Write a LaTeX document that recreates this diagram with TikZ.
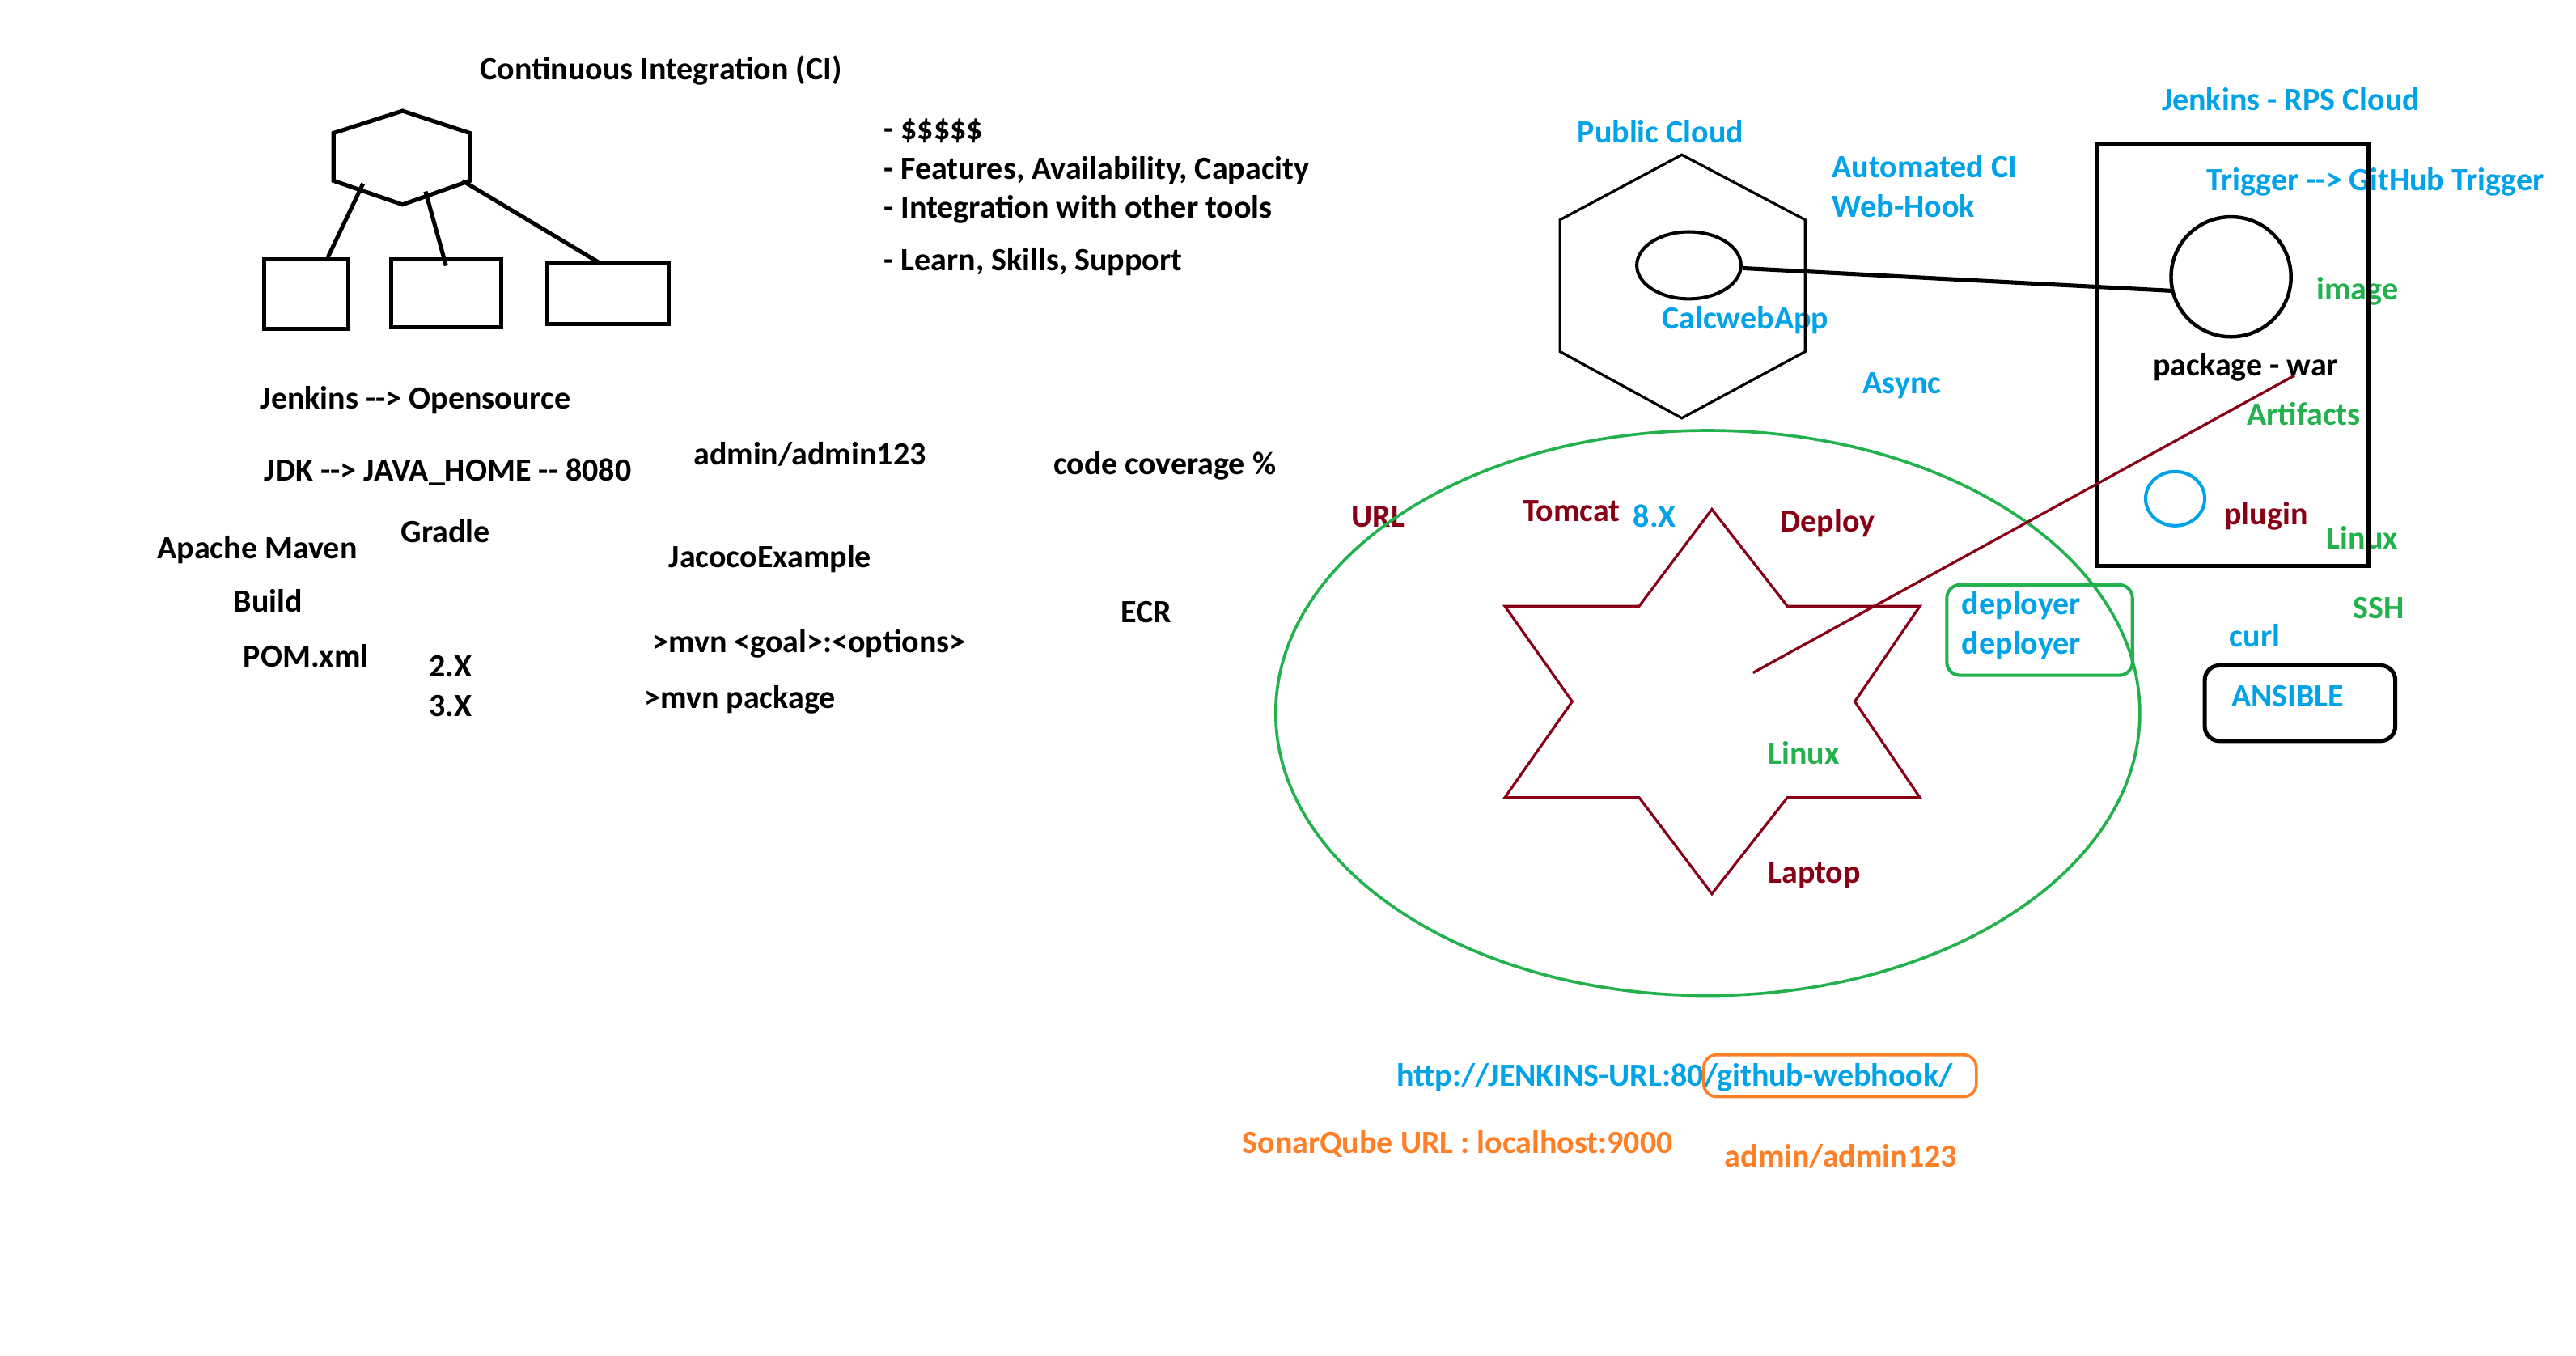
\documentclass[tikz,border=0pt]{standalone}
\usepackage{fontspec}
\setmainfont{Carlito}
\usetikzlibrary{shapes.geometric}
\definecolor{pblue}{HTML}{00A2E8}
\definecolor{pgreen}{HTML}{22B14C}
\definecolor{pred}{HTML}{880015}
\definecolor{porange}{HTML}{FF7F27}
\newcommand{\arr}{-{}->}
\newcommand{\dd}{-{}-}
\begin{document}
\begin{tikzpicture}[x=1pt,y=-1pt,
  lbl/.style={anchor=base west,inner sep=0pt,font=\fontsize{19.7}{24}\selectfont\bfseries},
  blk/.style={lbl,text=black},
  blu/.style={lbl,text=pblue},
  grn/.style={lbl,text=pgreen},
  drd/.style={lbl,text=pred},
  org/.style={lbl,text=porange},
  thick line/.style={draw=black,line width=2.5pt},
  thin line/.style={line width=1.6pt},
  box/.style={thick line,rectangle,inner sep=0pt}
]
\useasboundingbox[fill=white] (0,0) rectangle (1568,825);

% ---------- left texts ----------
\node[blk] (ci)   at (292,48.6) {Continuous Integration (CI)};
\node[blk] (t1)   at (537.7,84.8) {- \$\$\$\$\$};
\node[blk] (t2)   at (537.7,108.9) {- Features, Availability, Capacity};
\node[blk] (t3)   at (537.7,132.9) {- Integration with other tools};
\node[blk] (t4)   at (537.7,164.9) {- Learn, Skills, Support};
\node[blk] (jo)   at (158.3,248.9) {Jenkins \arr{} Opensource};
\node[blk] (jdk)  at (160.8,292.7) {JDK \arr{} JAVA\_HOME \dd{} 8080};
\node[blk] (adm)  at (422,282.8) {admin/admin123};
\node[blk] (cc)   at (641,289) {code coverage \%};
\node[blk] (am)   at (95.5,340) {Apache Maven};
\node[blk] (gr)   at (244,330.3) {Gradle};
\node[blk] (jac)  at (407,345.6) {JacocoExample};
\node[blk] (bld)  at (142,372.7) {Build};
\node[blk] (ecr)  at (682,379) {ECR};
\node[blk] (mvg)  at (397,397.3) {>mvn <goal>:<options>};
\node[blk] (pom)  at (148,406) {POM.xml};
\node[blk] (v2)   at (261,412) {2.X};
\node[blk] (v3)   at (261,436) {3.X};
\node[blk] (mvp)  at (392,431.2) {>mvn package};

% ---------- right texts ----------
\node[blu] (rps)  at (1315.7,67.3) {Jenkins - RPS Cloud};
\node[blu] (pc)   at (960,86.8) {Public Cloud};
\node[blu] (aci)  at (1115,108.3) {Automated CI};
\node[blu] (wh)   at (1115,132.4) {Web-Hook};
\node[blu] (trg)  at (1343,116) {Trigger \arr{} GitHub Trigger};
\node[grn] (img)  at (1410,182.4) {image};
\node[blu] (calc) at (1011.5,200.2) {CalcwebApp};
\node[blk] (pkg)  at (1310.4,228.5) {package - war};
\node[blu] (asy)  at (1133.7,239.8) {Async};
\node[grn] (art)  at (1367.6,258.8) {Artifacts};
\node[drd] (url)  at (822.6,321) {URL};
\node[drd] (tom)  at (926.8,317.3) {Tomcat};
\node[blu] (v8)   at (994,321) {8.X};
\node[drd] (dep)  at (1083.4,323.8) {Deploy};
\node[drd] (plg)  at (1353.8,319.6) {plugin};
\node[grn] (lnx1) at (1416,334.3) {Linux};
\node[grn] (ssh)  at (1432,376.7) {SSH};
\node[blu] (d1)   at (1194,373.9) {deployer};
\node[blu] (d2)   at (1194,398.2) {deployer};
\node[blu] (crl)  at (1357,393.7) {curl};
\node[blu] (ans)  at (1358,430.4) {ANSIBLE};
\node[grn] (lnx2) at (1076,465) {Linux};
\node[drd] (lap)  at (1076,537.6) {Laptop};
\node[blu] (hook) at (850,661.3) {http://JENKINS-URL:80/github-webhook/};
\node[org] (sq)   at (756,702) {SonarQube URL : localhost:9000};
\node[org] (adm2) at (1049.6,710.2) {admin/admin123};

% ---------- small hexagon and boxes ----------
\draw[thick line,line join=miter] (245,67.5) -- (286,81) -- (286,110) -- (245,124.5) -- (203,110) -- (203,81) -- cycle;
\coordinate (h1) at (221,111.7);
\coordinate (h2) at (259,116.5);
\coordinate (h3) at (281.5,110);
\node[box,minimum width=51pt,minimum height=42pt] (b1) at (186.5,179) {};
\node[box,minimum width=67pt,minimum height=41pt] (b2) at (271.5,178.5) {};
\node[box,minimum width=74pt,minimum height=37pt] (b3) at (370,178.5) {};
\draw[thick line] (h1) -- ([xshift=13pt]b1.north);
\draw[thick line] (h2) -- ([yshift=-5pt]b2.north);
\draw[thick line] (h3) -- ([xshift=-5.5pt,yshift=-1pt]b3.north);

% ---------- public cloud hexagon ----------
\draw[black,thin line] (1023.7,94.2) -- (1098.8,133.8) -- (1098.8,214) -- (1023.7,254.5) -- (949.6,214) -- (949.6,133.8) -- cycle;
\node[draw=black,line width=2pt,ellipse,inner sep=0pt,minimum width=63.4pt,minimum height=40.8pt] (se) at (1028,161.5) {};

% ---------- Jenkins box ----------
\node[box,minimum width=165.6pt,minimum height=256.8pt] (jbox) at (1358.8,216.1) {};
\node[draw=black,line width=2.2pt,circle,inner sep=0pt,minimum size=73pt] (bc) at (1358,168.5) {};
\node[draw=pblue,line width=2pt,ellipse,inner sep=0pt,minimum width=36pt,minimum height=33pt] (pe) at (1324,303.5) {};
\draw[thick line] (se.-3) -- (bc.193);

% ---------- ANSIBLE box ----------
\node[box,rounded corners=9pt,minimum width=116pt,minimum height=46pt] (abox) at (1400,428) {};

% ---------- green ellipse and star ----------
\node[draw=pgreen,line width=1.8pt,ellipse,inner sep=0pt,minimum width=526pt,minimum height=344pt] (env) at (1039.5,434) {};
\draw[pred,thin line,line join=miter] (1042,310) -- (1088,369) -- (1168.6,369) -- (1129,427) -- (1168.6,485.4) -- (1088,485.4) -- (1042,544) -- (997.7,485.4) -- (916,485.4) -- (957,427) -- (916,369) -- (997.7,369) -- cycle;
\coordinate (sin) at (1067,409.5);
\coordinate (wend) at (1396.7,228.5);
\draw[pred,thin line] (sin) -- (wend);

% ---------- deployer box ----------
\node[draw=pgreen,line width=2pt,rectangle,rounded corners=8pt,inner sep=0pt,minimum width=113pt,minimum height=55pt] (dbox) at (1241.5,383.5) {};

% ---------- orange box ----------
\node[draw=porange,line width=1.8pt,rectangle,rounded corners=8pt,inner sep=0pt,minimum width=166pt,minimum height=25.6pt] (obox) at (1120,654.8) {};
\end{tikzpicture}
\end{document}
